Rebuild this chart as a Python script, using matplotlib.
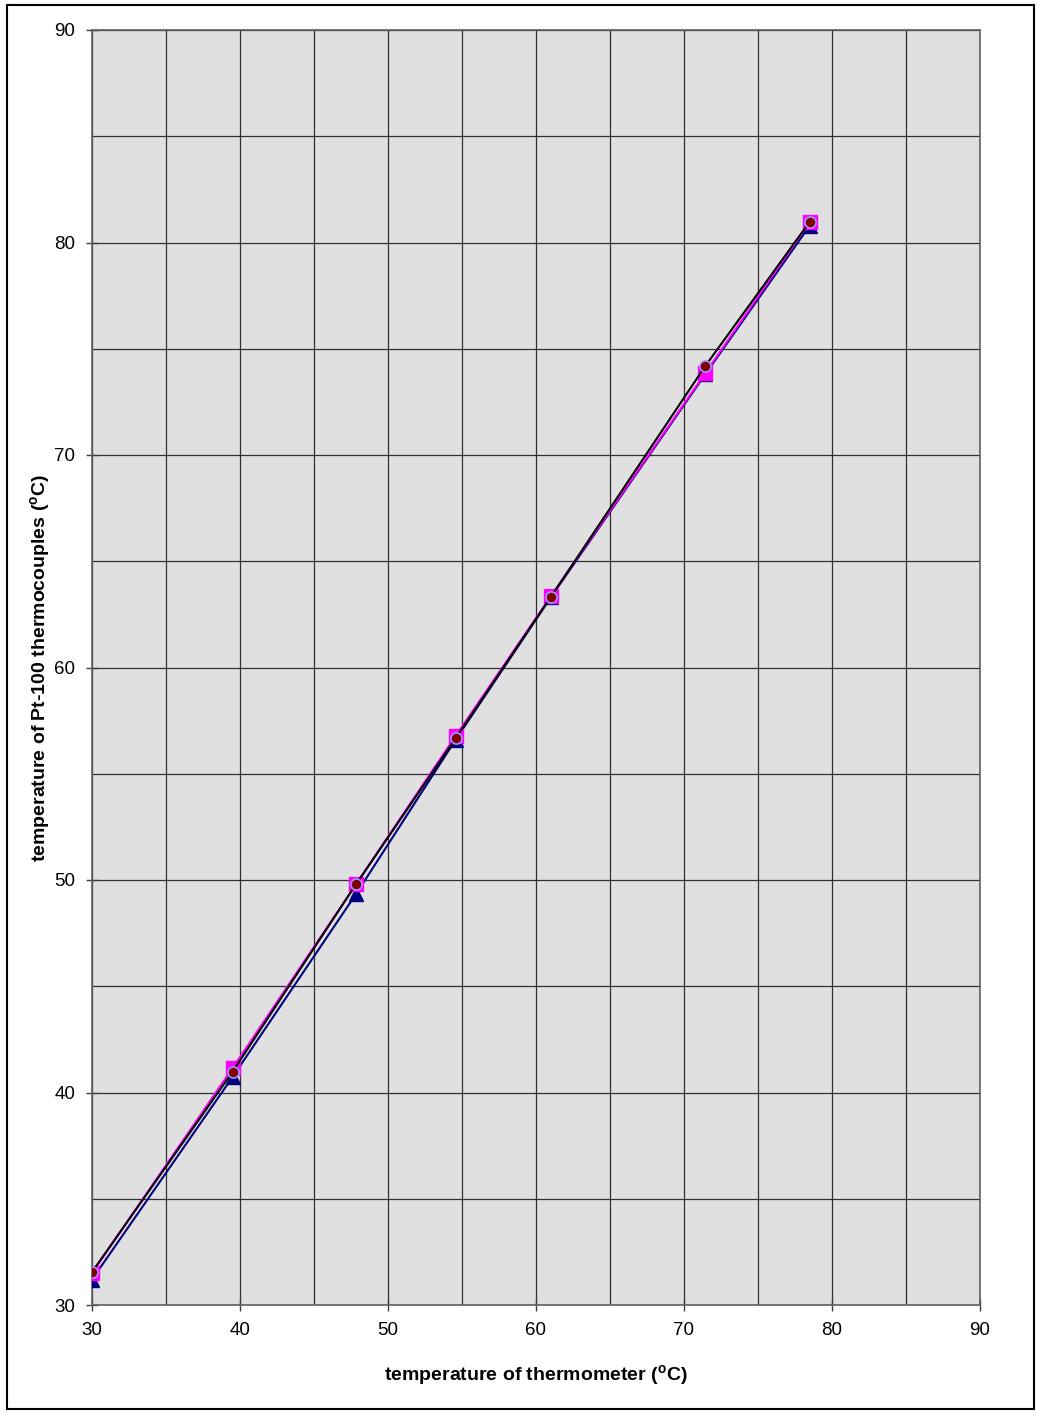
import numpy as np
import matplotlib.pyplot as plt
from matplotlib.patches import Rectangle

plt.rcParams['font.family'] = ['Liberation Sans', 'DejaVu Sans']
plt.rcParams['mathtext.fontset'] = 'custom'
plt.rcParams['mathtext.rm'] = 'Liberation Sans:bold'
plt.rcParams['mathtext.bf'] = 'Liberation Sans:bold'

# thermometer readings and the three Pt-100 sensor readings
thermometer = [30.0, 39.5, 47.84, 54.57, 61.0, 71.44, 78.5]
pt100_a = [31.2, 40.73, 49.34, 56.6, 63.3, 73.8, 80.8]
pt100_b = [31.5, 41.15, 49.8, 56.78, 63.35, 73.86, 80.98]
pt100_c = [31.55, 40.98, 49.8, 56.67, 63.32, 74.19, 80.98]

fig = plt.figure(figsize=(10.4, 14.14), dpi=100)
ax = fig.add_axes([92/1040, 1 - 1305/1414, 888/1040, 1275/1414])
ax.set_facecolor('#e0e0e0')

ax.plot(thermometer, pt100_a, color='#000080', lw=1.5, marker='^', ms=10,
        mfc='#000080', mec='#000080', zorder=3)
ax.plot(thermometer, pt100_b, color='#ff00ff', lw=1.5, marker='s', ms=10,
        mfc='#ff00ff', mec='#ff00ff', zorder=4)
ax.plot(thermometer, pt100_c, color='black', lw=1.5, marker='o', ms=8,
        mfc='#800000', mec='#9999ff', mew=1.2, zorder=5)

ax.set_xlim(30, 90)
ax.set_ylim(30, 90)
ax.set_xticks(np.arange(30, 91, 10))
ax.set_yticks(np.arange(30, 91, 10))
ax.set_xticks(np.arange(30, 91, 5), minor=True)
ax.set_yticks(np.arange(30, 91, 5), minor=True)
ax.tick_params(which='major', direction='inout', length=8, width=1,
               color='#404040', labelsize=13.5, pad=8)
ax.tick_params(which='minor', length=0)
ax.grid(True, which='both', color='#303030', lw=0.9)
ax.set_axisbelow(True)
for s in ax.spines.values():
    s.set_color('#606060')
    s.set_linewidth(1.2)

ax.set_xlabel(r'temperature of thermometer ($^{\mathrm{o}}$C)',
              fontsize=14, fontweight='bold', labelpad=18)
ax.set_ylabel(r'temperature of Pt-100 thermocouples ($^{\mathrm{o}}$C)',
              fontsize=14, fontweight='bold', labelpad=1)

fig.patches.append(Rectangle((7/1040, 1 - 1409/1414), 1027/1040, 1404/1414,
                             transform=fig.transFigure, fill=False,
                             edgecolor='black', lw=1.5))

fig.savefig('out.png', dpi=100)
